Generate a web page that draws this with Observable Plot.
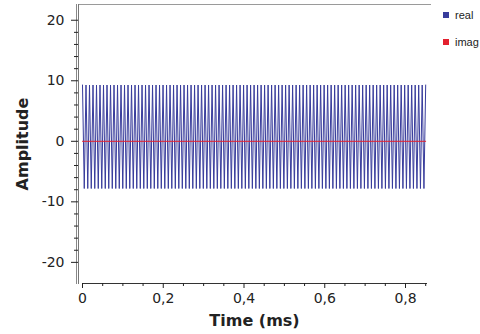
<!DOCTYPE html>
<html><head><meta charset="utf-8">
<script src="https://cdn.jsdelivr.net/npm/d3@7"></script>
<script src="https://cdn.jsdelivr.net/npm/@observablehq/plot@0.6"></script>
<style>
body{margin:0;background:#fff;}
#wrap{position:relative;width:480px;height:334px;font-family:"DejaVu Sans",sans-serif;overflow:hidden;}
.lg{position:absolute;left:443px;font-family:"Liberation Sans",Arial,sans-serif;font-size:11px;color:#222;line-height:12px;white-space:nowrap;}
.lg span{display:inline-block;width:6px;height:6px;margin-right:6px;vertical-align:1px;}
svg g[aria-label="y-axis label"] text, svg g[aria-label="x-axis label"] text{font-weight:bold;font-size:16px;}
</style></head>
<body><div id="wrap"></div>
<script>
// sample spacing (ms): ~98 cycles across 0.85 ms
const sampleStep = 0.85 / 196;
const realValues = [
9.3,-7.8,9.3,-7.8,9.3,-7.8,9.3,-7.8,9.3,-7.8,9.3,-7.8,9.3,-7.8,9.3,-7.8,9.3,-7.8,9.3,-7.8,
9.3,-7.8,9.3,-7.8,9.3,-7.8,9.3,-7.8,9.3,-7.8,9.3,-7.8,9.3,-7.8,9.3,-7.8,9.3,-7.8,9.3,-7.8,
9.3,-7.8,9.3,-7.8,9.3,-7.8,9.3,-7.8,9.3,-7.8,9.3,-7.8,9.3,-7.8,9.3,-7.8,9.3,-7.8,9.3,-7.8,
9.3,-7.8,9.3,-7.8,9.3,-7.8,9.3,-7.8,9.3,-7.8,9.3,-7.8,9.3,-7.8,9.3,-7.8,9.3,-7.8,9.3,-7.8,
9.3,-7.8,9.3,-7.8,9.3,-7.8,9.3,-7.8,9.3,-7.8,9.3,-7.8,9.3,-7.8,9.3,-7.8,9.3,-7.8,9.3,-7.8,
9.3,-7.8,9.3,-7.8,9.3,-7.8,9.3,-7.8,9.3,-7.8,9.3,-7.8,9.3,-7.8,9.3,-7.8,9.3,-7.8,9.3,-7.8,
9.3,-7.8,9.3,-7.8,9.3,-7.8,9.3,-7.8,9.3,-7.8,9.3,-7.8,9.3,-7.8,9.3,-7.8,9.3,-7.8,9.3,-7.8,
9.3,-7.8,9.3,-7.8,9.3,-7.8,9.3,-7.8,9.3,-7.8,9.3,-7.8,9.3,-7.8,9.3,-7.8,9.3,-7.8,9.3,-7.8,
9.3,-7.8,9.3,-7.8,9.3,-7.8,9.3,-7.8,9.3,-7.8,9.3,-7.8,9.3,-7.8,9.3,-7.8,9.3,-7.8,9.3,-7.8,
9.3,-7.8,9.3,-7.8,9.3,-7.8,9.3,-7.8,9.3,-7.8,9.3,-7.8,9.3,-7.8,9.3,-7.8,
9.3];
const imagTimes = [0, 0.85];
const imagValues = [0, 0];
const seriesNames = ["real", "imag"];
const seriesColors = ["#383c9c", "#e3202e"];
const yMajor = [-20, -10, 0, 10, 20];
const yMinor = [-18,-16,-14,-12,-8,-6,-4,-2,2,4,6,8,12,14,16,18];
const xMajor = [0, 0.2, 0.4, 0.6, 0.8];
const xMinor = [0.05,0.1,0.15,0.25,0.3,0.35,0.45,0.5,0.55,0.65,0.7,0.75,0.85];

const realData = realValues.map((v, i) => ({t: i * sampleStep, v}));
const imagData = imagValues.map((v, i) => ({t: imagTimes[i], v}));

const chart = Plot.plot({
  width: 480, height: 334,
  marginLeft: 78, marginRight: 50, marginTop: 4, marginBottom: 51,
  insetLeft: 4, insetRight: 4, insetBottom: 6,
  x: {domain: [0, 0.852]},
  y: {domain: [-22.5, 22.6]},
  style: {fontFamily: "DejaVu Sans", fontSize: "14px", color: "#222", background: "white", overflow: "visible"},
  marks: [
    Plot.frame({anchor: "top", stroke: "#9a9a9a"}),
    Plot.frame({anchor: "left", stroke: "#777"}),
    Plot.frame({anchor: "left", stroke: "#888", dx: -2}),
    Plot.frame({anchor: "bottom", insetLeft: 4, insetRight: 4, stroke: "#333"}),
    Plot.axisY({ticks: yMajor, tickSize: 7, tickPadding: 7, tickFormat: d => String(d), label: "Amplitude", labelArrow: "none", labelAnchor: "center", labelOffset: 62}),
    Plot.axisY({ticks: yMinor, tickSize: 4, tickFormat: () => "", label: null}),
    Plot.axisX({ticks: xMajor, tickSize: 5, tickPadding: 5, tickFormat: d => String(d).replace(".", ","), label: "Time (ms)", labelArrow: "none", labelAnchor: "center", labelOffset: 42}),
    Plot.axisX({ticks: xMinor, tickSize: 3, tickFormat: () => "", label: null}),
    Plot.line(realData, {x: "t", y: "v", stroke: seriesColors[0], strokeWidth: 1}),
    Plot.line(imagData, {x: "t", y: "v", stroke: seriesColors[1], strokeWidth: 1})
  ]
});
const wrap = document.getElementById("wrap");
wrap.appendChild(chart);
seriesNames.forEach((n, i) => {
  const d = document.createElement("div");
  d.className = "lg";
  d.style.top = (9 + i * 27) + "px";
  d.innerHTML = `<span style="background:${seriesColors[i]}"></span>${n}`;
  wrap.appendChild(d);
});
</script>
</body></html>
